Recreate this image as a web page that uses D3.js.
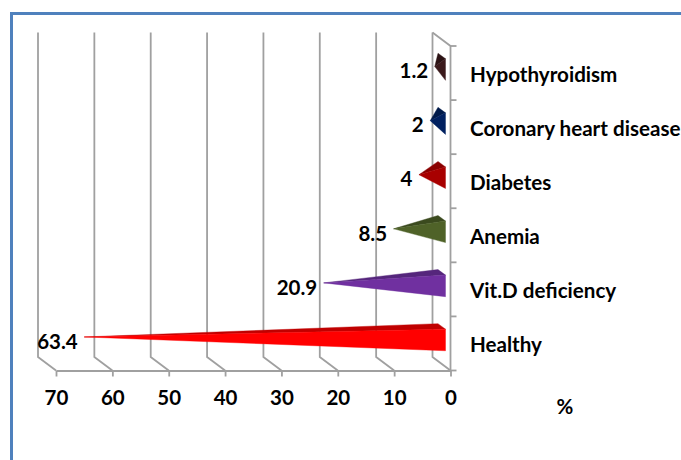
<!DOCTYPE html>
<html>
<head>
<meta charset="utf-8">
<script src="https://cdn.jsdelivr.net/npm/d3@7"></script>
<style>
  html, body { margin: 0; padding: 0; background: #fff; }
  svg { display: block; }
  text { font-family: Lato, "Open Sans", sans-serif; font-weight: 700; fill: #000; }
</style>
</head>
<body>
<svg id="chart" width="681" height="460"></svg>
<script>
// Prevalence of conditions (%), ordered bottom to top on the category axis
const categories = ["Healthy", "Vit.D deficiency", "Anemia", "Diabetes", "Coronary heart disease", "Hypothyroidism"];
const values = [63.4, 20.9, 8.5, 4, 2, 1.2];
const valueLabels = ["63.4", "20.9", "8.5", "4", "2", "1.2"];
const frontColors = ["#ff0000", "#7030a0", "#4f6228", "#a80000", "#002060", "#3b1a1c"];
const topColors = ["#c00000", "#55267c", "#3b4a1e", "#8a0000", "#001a4a", "#2b1214"];
const xTicks = [0, 10, 20, 30, 40, 50, 60, 70];
const axisTitle = "%";

const svg = d3.select("#chart");
const gridColor = "#a0a0a0";
const gridWidth = 1.8;

// Frame: left and top rules only
svg.append("path")
  .attr("d", d3.line()([[11.5, 460], [11.5, 13.5], [681, 13.5]]))
  .attr("fill", "none")
  .attr("stroke", "#4f81bd")
  .attr("stroke-width", 3);

// Front-plane scales; the back wall sits up and to the left by a fixed depth
const depth = { x: -18, y: -13.5 };
const x = d3.scaleLinear().domain([0, 70]).range([450.5, 56]);
const plotTop = 46, plotBottom = 370.5;
const y = d3.scaleBand().domain(categories).range([plotBottom, plotTop]);

// Wall grid: vertical on the back plane, then a diagonal down the floor
svg.append("g").selectAll("path")
  .data(xTicks)
  .join("path")
  .attr("d", d => d3.line()([
    [x(d) + depth.x, plotTop + depth.y],
    [x(d) + depth.x, plotBottom + depth.y],
    [x(d), plotBottom]
  ]))
  .attr("fill", "none")
  .attr("stroke", gridColor)
  .attr("stroke-width", gridWidth);

// Side wall edge along the top and the category axis
svg.append("path")
  .attr("d", d3.line()([[x(0) + depth.x, plotTop + depth.y], [x(0), plotTop], [x(0), plotBottom]]))
  .attr("fill", "none")
  .attr("stroke", gridColor)
  .attr("stroke-width", gridWidth);

// Value axis along the front of the floor
const xAxis = svg.append("g")
  .attr("transform", `translate(0,${plotBottom})`)
  .call(d3.axisBottom(x).tickValues(xTicks).tickSize(6).tickSizeOuter(0).tickPadding(13.5).tickFormat(d3.format("d")));
xAxis.selectAll("path, line").attr("stroke", gridColor).attr("stroke-width", gridWidth);
xAxis.selectAll("text").attr("font-size", 20.5).attr("fill", "#000").style("font-family", "Lato, 'Open Sans', sans-serif");

// Category axis tick marks
svg.append("g").selectAll("line")
  .data(d3.range(categories.length + 1))
  .join("line")
  .attr("x1", x(0)).attr("x2", x(0) + 6)
  .attr("y1", i => plotBottom - i * y.step())
  .attr("y2", i => plotBottom - i * y.step())
  .attr("stroke", gridColor)
  .attr("stroke-width", gridWidth);

// Pyramid bars: apex at the value, square base against the side wall
const baseX = x(0) - 5;
const backX = x(0) - 12.5;
const baseHalf = 10.8;
const apexShift = depth.x / 2;

const rows = categories.map((c, i) => ({
  name: c,
  value: values[i],
  label: valueLabels[i],
  front: frontColors[i],
  top: topColors[i],
  cy: y(c) + y.bandwidth() / 2 - 6.5
}));

const bars = svg.append("g").selectAll("g").data(rows).join("g");

bars.append("path")
  .attr("d", d => d3.line()([
    [x(d.value) + apexShift, d.cy],
    [backX, d.cy - baseHalf - 2.5],
    [baseX, d.cy - baseHalf + 3]
  ]) + "Z")
  .attr("fill", d => d.top)
  .attr("stroke", d => d.top)
  .attr("stroke-width", 0.4);

bars.append("path")
  .attr("d", d => d3.line()([
    [x(d.value) + apexShift, d.cy],
    [baseX, d.cy - baseHalf + 3],
    [baseX, d.cy + baseHalf + 3]
  ]) + "Z")
  .attr("fill", d => d.front)
  .attr("stroke", d => d.front)
  .attr("stroke-width", 0.4);

// Value labels sit just left of each apex
bars.append("text")
  .attr("x", d => x(d.value) + apexShift - 6.5)
  .attr("y", d => d.cy + 6.5)
  .attr("text-anchor", "end")
  .attr("dominant-baseline", "middle")
  .attr("font-size", 20.5)
  .text(d => d.label);

// Category names to the right of the axis
svg.append("g").selectAll("text")
  .data(rows)
  .join("text")
  .attr("x", 470)
  .attr("y", d => d.cy + 10)
  .attr("dominant-baseline", "middle")
  .attr("font-size", 20.6)
  .text(d => d.name);

svg.append("text")
  .attr("x", 565)
  .attr("y", 409)
  .attr("text-anchor", "middle")
  .attr("dominant-baseline", "middle")
  .attr("font-size", 20.5)
  .text(axisTitle);
</script>
</body>
</html>
